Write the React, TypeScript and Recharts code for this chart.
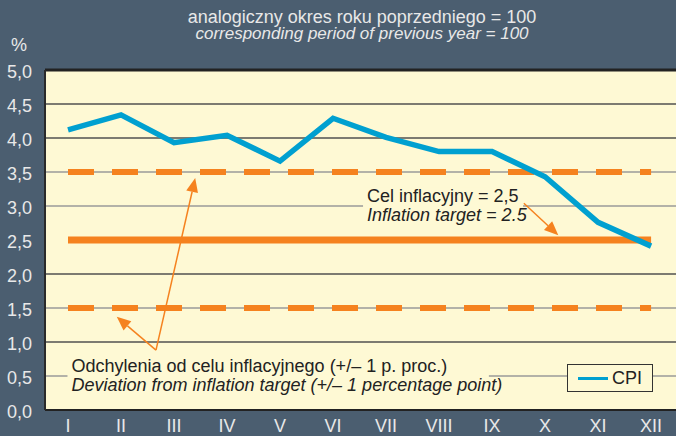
import {
  ComposedChart,
  Line,
  ReferenceArea,
  ReferenceLine,
  XAxis,
  YAxis,
} from "recharts";

const months = [1, 2, 3, 4, 5, 6, 7, 8, 9, 10, 11, 12];
const monthLabels = ["I", "II", "III", "IV", "V", "VI", "VII", "VIII", "IX", "X", "XI", "XII"];
const cpi = [4.12, 4.34, 3.93, 4.04, 3.66, 4.29, 4.01, 3.8, 3.8, 3.43, 2.76, 2.41];
const target = [2.5, 2.5, 2.5, 2.5, 2.5, 2.5, 2.5, 2.5, 2.5, 2.5, 2.5, 2.5];
const upperBound = [3.5, 3.5, 3.5, 3.5, 3.5, 3.5, 3.5, 3.5, 3.5, 3.5, 3.5, 3.5];
const lowerBound = [1.5, 1.5, 1.5, 1.5, 1.5, 1.5, 1.5, 1.5, 1.5, 1.5, 1.5, 1.5];
const yTicks = [0, 0.5, 1, 1.5, 2, 2.5, 3, 3.5, 4, 4.5, 5];
const darkGrid = [1, 2, 4, 4.5];
const lightGrid = [0.5, 1.5, 3, 3.5];

const BG = "#4b5e70";
const PLOT = "#fef9d4";
const ORANGE = "#f5821f";
const BLUE = "#00a0d0";
const LIGHT = "#e8e8e8";
const FONT = '"Liberation Sans", Arial, sans-serif';

const data = months.map((m, i) => ({
  month: m,
  cpi: cpi[i],
  target: target[i],
  upper: upperBound[i],
  lower: lowerBound[i],
}));

const X_DOMAIN: [number, number] = [0.566, 12.47];
const Y_DOMAIN: [number, number] = [0, 5];

// plot background + horizontal grid, placed from the area's own pixel box
function plotBackground(props: any) {
  const { x, y, width, height } = props;
  const rowY = (v: number) =>
    y + height * (1 - (v - Y_DOMAIN[0]) / (Y_DOMAIN[1] - Y_DOMAIN[0]));
  return (
    <g>
      <rect x={x} y={y} width={width} height={height} fill={PLOT} />
      {lightGrid.map((v) => (
        <line key={`l${v}`} x1={x} x2={x + width} y1={rowY(v)} y2={rowY(v)} stroke="#9a9a9a" strokeWidth={1.3} />
      ))}
      {darkGrid.map((v) => (
        <line key={`d${v}`} x1={x} x2={x + width} y1={rowY(v)} y2={rowY(v)} stroke="#505050" strokeWidth={1.3} />
      ))}
      <line x1={x} x2={x + width} y1={rowY(5)} y2={rowY(5)} stroke="#222" strokeWidth={3} />
    </g>
  );
}

function arrowShape(props: any) {
  const { x1, y1, x2, y2 } = props;
  const ang = Math.atan2(y2 - y1, x2 - x1);
  const len = 14;
  const half = 6;
  const bx = x2 - Math.cos(ang) * len;
  const by = y2 - Math.sin(ang) * len;
  const px = -Math.sin(ang) * half;
  const py = Math.cos(ang) * half;
  return (
    <g>
      <line x1={x1} y1={y1} x2={bx} y2={by} stroke={ORANGE} strokeWidth={1.5} />
      <polygon
        points={`${x2},${y2} ${bx + px},${by + py} ${bx - px},${by - py}`}
        fill={ORANGE}
      />
    </g>
  );
}

function noteBox(lines: string[], lineGap: number, first: number) {
  return (props: any) => {
    const { x, y, width, height } = props;
    return (
      <g>
        <rect x={x} y={y} width={width} height={height} fill={PLOT} />
        <text x={x + 4} y={y + first} fontSize={18} fill="#222" fontFamily={FONT}>
          {lines[0]}
        </text>
        <text
          x={x + 4}
          y={y + first + lineGap}
          fontSize={18}
          fill="#222"
          fontStyle="italic"
          fontFamily={FONT}
        >
          {lines[1]}
        </text>
      </g>
    );
  };
}

function YTick(props: any) {
  const { x, y, payload } = props;
  return (
    <text x={x} y={y + 8} textAnchor="end" fontSize={18} fill={LIGHT} fontFamily={FONT}>
      {Number(payload.value).toFixed(1).replace(".", ",")}
    </text>
  );
}

function XTick(props: any) {
  const { x, payload } = props;
  return (
    <text x={x} y={432} textAnchor="middle" fontSize={18} fill={LIGHT} fontFamily={FONT}>
      {monthLabels[months.indexOf(payload.value)]}
    </text>
  );
}

export default function App() {
  return (
    <div
      style={{
        position: "absolute",
        left: 0,
        top: 0,
        width: 676,
        height: 436,
        background: BG,
        fontFamily: FONT,
        overflow: "hidden",
      }}
    >
      <div
        style={{
          position: "absolute",
          left: 0,
          width: 724,
          top: 8,
          textAlign: "center",
          color: LIGHT,
          fontSize: 18,
          lineHeight: "18px",
        }}
      >
        analogiczny okres roku poprzedniego = 100
      </div>
      <div
        style={{
          position: "absolute",
          left: 0,
          width: 724,
          top: 26,
          textAlign: "center",
          color: LIGHT,
          fontSize: 17,
          lineHeight: "15px",
          fontStyle: "italic",
        }}
      >
        corresponding period of previous year = 100
      </div>
      <div style={{ position: "absolute", left: 11, top: 35, color: LIGHT, fontSize: 18 }}>%</div>

      <ComposedChart
        width={676}
        height={436}
        data={data}
        margin={{ top: 70, right: 0, bottom: 0, left: 0 }}
      >
        <XAxis
          dataKey="month"
          type="number"
          domain={X_DOMAIN}
          ticks={months}
          allowDataOverflow
          height={26}
          tickLine={false}
          axisLine={{ stroke: "#222", strokeWidth: 2 }}
          tick={<XTick />}
          interval={0}
        />
        <YAxis
          type="number"
          domain={Y_DOMAIN}
          ticks={yTicks}
          width={45}
          tickLine={false}
          tickSize={0}
          tickMargin={13}
          axisLine={{ stroke: "#2a2a2a", strokeWidth: 2 }}
          tick={<YTick />}
          interval={0}
        />
        <ReferenceArea
          x1={X_DOMAIN[0]}
          x2={X_DOMAIN[1]}
          y1={Y_DOMAIN[0]}
          y2={Y_DOMAIN[1]}
          shape={plotBackground}
        />
        <ReferenceArea
          x1={6.566}
          x2={9.585}
          y1={2.735}
          y2={3.265}
          shape={noteBox(["Cel inflacyjny = 2,5", "Inflation target = 2.5"], 19, 14)}
        />
        <ReferenceArea
          x1={0.99}
          x2={8.94}
          y1={0.206}
          y2={0.824}
          shape={noteBox(
            [
              "Odchylenia od celu inflacyjnego (+/– 1 p. proc.)",
              "Deviation from inflation target (+/– 1 percentage point)",
            ],
            19,
            18
          )}
        />
        <Line
          dataKey="upper"
          stroke={ORANGE}
          strokeWidth={6}
          strokeDasharray="26 18"
          dot={false}
          isAnimationActive={false}
        />
        <Line
          dataKey="lower"
          stroke={ORANGE}
          strokeWidth={6}
          strokeDasharray="26 18"
          dot={false}
          isAnimationActive={false}
        />
        <Line
          dataKey="target"
          stroke={ORANGE}
          strokeWidth={7}
          dot={false}
          isAnimationActive={false}
        />
        <Line
          dataKey="cpi"
          name="CPI"
          stroke={BLUE}
          strokeWidth={5.5}
          strokeLinejoin="miter"
          dot={false}
          isAnimationActive={false}
        />
        <ReferenceLine
          segment={[
            { x: 9.6, y: 3.04 },
            { x: 10.25, y: 2.57 },
          ]}
          shape={arrowShape}
        />
        <ReferenceLine
          segment={[
            { x: 2.66, y: 0.88 },
            { x: 1.92, y: 1.37 },
          ]}
          shape={arrowShape}
        />
        <ReferenceLine
          segment={[
            { x: 2.66, y: 0.88 },
            { x: 3.4, y: 3.41 },
          ]}
          shape={arrowShape}
        />
      </ComposedChart>

      <div
        style={{
          position: "absolute",
          left: 567,
          top: 364,
          width: 84,
          height: 26,
          border: "1.5px solid #333",
          background: PLOT,
          display: "flex",
          alignItems: "center",
          boxSizing: "content-box",
        }}
      >
        <span
          style={{
            display: "inline-block",
            width: 30,
            height: 3,
            background: BLUE,
            marginLeft: 10,
            marginRight: 4,
          }}
        />
        <span style={{ fontSize: 18, color: "#222" }}>CPI</span>
      </div>
    </div>
  );
}
